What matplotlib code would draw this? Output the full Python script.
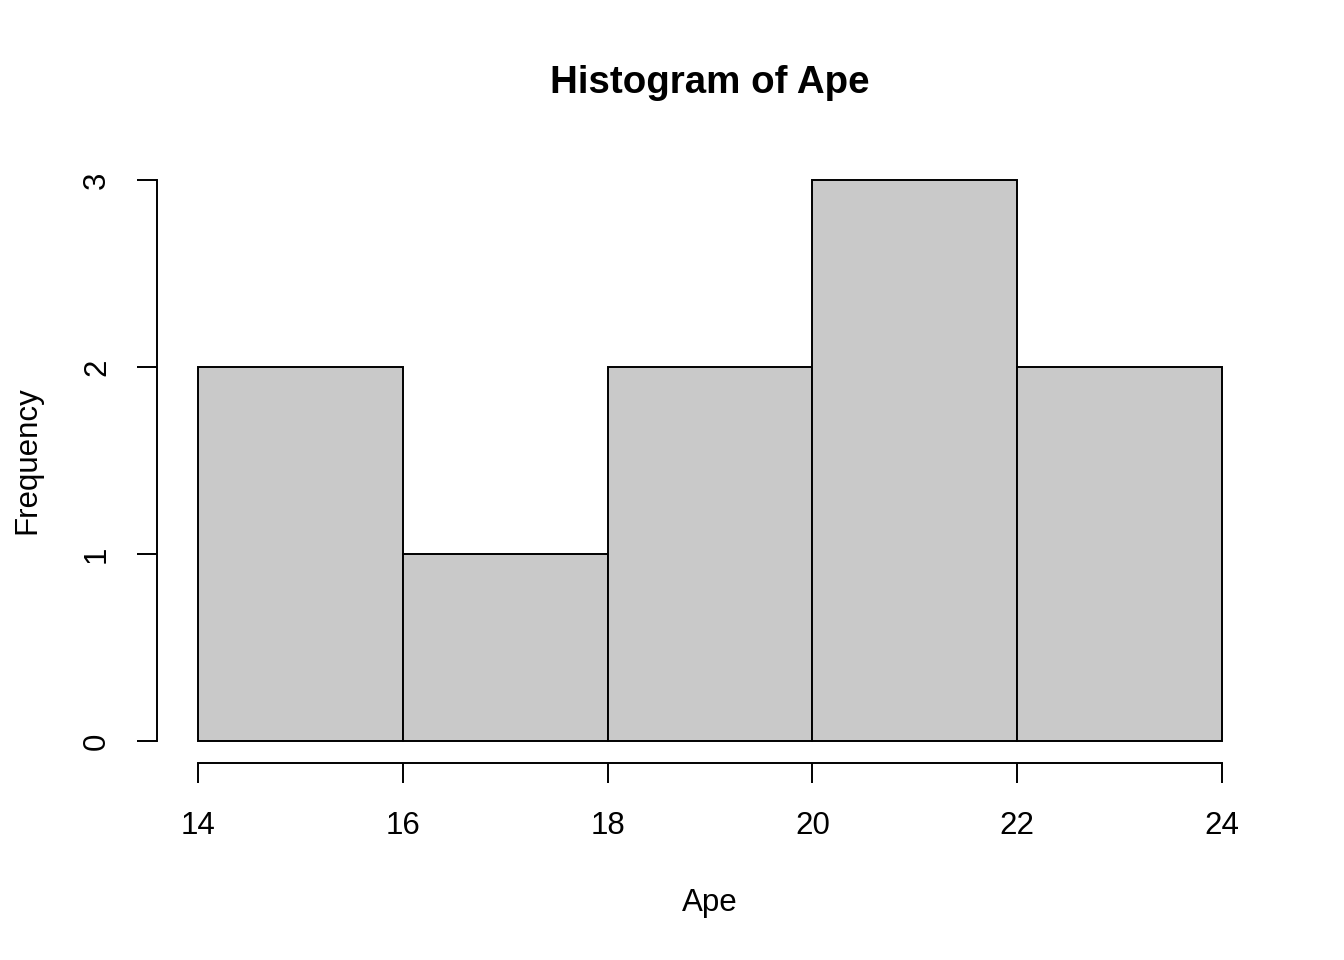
import matplotlib
matplotlib.use("Agg")
import matplotlib.pyplot as plt

# Histogramme de Ape : bornes des classes et effectifs
bin_edges = [14, 16, 18, 20, 22, 24]
counts = [2, 1, 2, 3, 2]
x_ticks = [14, 16, 18, 20, 22, 24]
y_ticks = [0, 1, 2, 3]

plt.rcParams['font.family'] = ['Liberation Sans', 'DejaVu Sans']

W, H = 1344, 960
fig = plt.figure(figsize=(W / 100, H / 100), dpi=100)

# zone de tracé façon R (étendue de 4 %)
left, right, top, bottom = 157, 1263, 157.6, 763.4
ax = fig.add_axes([left / W, 1 - bottom / H, (right - left) / W, (bottom - top) / H])

widths = [b - a for a, b in zip(bin_edges[:-1], bin_edges[1:])]
ax.bar(bin_edges[:-1], counts, width=widths, align='edge',
       color='#c9c9c9', edgecolor='black', linewidth=1.4)

ax.set_xlim(13.6, 24.4)
ax.set_ylim(-0.12, 3.12)

for s in ['top', 'right']:
    ax.spines[s].set_visible(False)
ax.spines['bottom'].set_bounds(x_ticks[0], x_ticks[-1])
ax.spines['left'].set_bounds(y_ticks[0], y_ticks[-1])
for s in ['bottom', 'left']:
    ax.spines[s].set_linewidth(1.4)

ax.set_xticks(x_ticks)
ax.set_yticks(y_ticks)
ax.tick_params(axis='both', length=14.4, width=1.4, labelsize=22.5, direction='out')
ax.tick_params(axis='x', pad=20)
ax.tick_params(axis='y', pad=18)
for lab in ax.get_yticklabels():
    lab.set_rotation(90)
    lab.set_va('center')

ax.set_xlabel('Ape', fontsize=22.5)
ax.xaxis.set_label_coords(0.5, -0.231)
ax.xaxis.label.set_va('center')
ax.set_ylabel('Frequency', fontsize=22.5)
ax.yaxis.set_label_coords(-0.1175, 0.5)
ax.yaxis.label.set_va('center')

ax.text(0.5, 1.123, 'Histogram of Ape', transform=ax.transAxes,
        ha='center', va='center', fontsize=27.7, fontweight='bold')

fig.savefig('out.png', dpi=100)
